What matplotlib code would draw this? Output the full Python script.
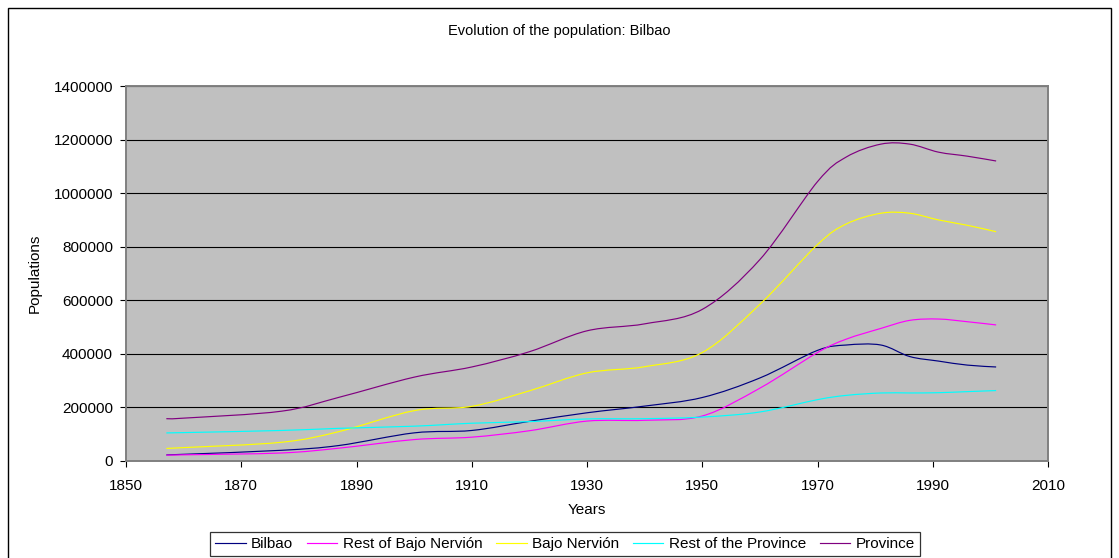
import matplotlib.pyplot as plt
import numpy as np
from matplotlib.path import Path
from matplotlib.patches import PathPatch, Rectangle
from matplotlib.lines import Line2D

plt.rcParams['font.family'] = ['Liberation Sans', 'DejaVu Sans']

# Census years and population counts
years = [1857, 1860, 1877, 1887, 1900, 1910, 1920, 1930, 1940, 1950,
         1960, 1970, 1975, 1981, 1986, 1991, 1996, 2001]

bilbao = [23000, 25000, 40000, 58000, 105000, 114000, 148000, 180000, 205000, 237000,
          310000, 413000, 433000, 433000, 390000, 373000, 358000, 351000]
rest_bajo_nervion = [22000, 23000, 30000, 48000, 80000, 89000, 113000, 149000, 152000, 168000,
                     272000, 405000, 455000, 495000, 525000, 530000, 520000, 508000]
bajo_nervion = [47000, 50000, 70000, 110000, 188000, 204000, 262000, 329000, 352000, 405000,
                585000, 808000, 885000, 925000, 925000, 900000, 880000, 856000]
rest_province = [105000, 106000, 114000, 122000, 130000, 141000, 147000, 157000, 158000, 164000,
                 183000, 229000, 245000, 254000, 254000, 255000, 259000, 263000]
province = [158000, 160000, 186000, 238000, 313000, 351000, 408000, 486000, 512000, 566000,
            752000, 1043000, 1135000, 1183000, 1183000, 1153000, 1138000, 1120000]

series = [
    ("Bilbao", bilbao, "#000080"),
    ("Rest of Bajo Nervión", rest_bajo_nervion, "#FF00FF"),
    ("Bajo Nervión", bajo_nervion, "#FFFF00"),
    ("Rest of the Province", rest_province, "#00FFFF"),
    ("Province", province, "#800080"),
]


def smooth_path(xs, ys):
    """Bezier path through the points, spreadsheet-style smoothed line."""
    pts = np.column_stack([xs, ys]).astype(float)
    n = len(pts)
    verts = [pts[0]]
    codes = [Path.MOVETO]
    for i in range(n - 1):
        p0 = pts[i - 1] if i > 0 else pts[i]
        p1, p2 = pts[i], pts[i + 1]
        p3 = pts[i + 2] if i + 2 < n else pts[i + 1]
        c1 = p1 + (p2 - p0) / 6.0
        c2 = p2 - (p3 - p1) / 6.0
        verts += [c1, c2, p2]
        codes += [Path.CURVE4] * 3
    return Path(verts, codes)


fig = plt.figure(figsize=(11.19, 5.58), dpi=100)
ax = fig.add_axes([126 / 1119, 1 - 461 / 558, 922 / 1119, 375 / 558])
ax.set_facecolor("#C0C0C0")

handles = []
for name, vals, color in series:
    ax.add_patch(PathPatch(smooth_path(years, vals), fill=False, edgecolor=color,
                           linewidth=0.85, zorder=3))
    handles.append(Line2D([], [], color=color, linewidth=0.85, label=name))

ax.set_xlim(1850, 2010)
ax.set_ylim(0, 1400000)
ax.set_xticks(range(1850, 2011, 20))
ax.set_yticks(range(0, 1400001, 200000))
ax.yaxis.set_major_formatter(plt.FuncFormatter(lambda v, p: f"{int(v)}"))
ax.grid(axis="y", color="black", linewidth=0.8)
ax.set_axisbelow(True)
ax.tick_params(labelsize=11, length=4.3, width=0.8, color="black", direction="out")
ax.tick_params(axis="y", pad=5)
ax.tick_params(axis="x", pad=9)
for side in ["left", "bottom", "top", "right"]:
    ax.spines[side].set_color("#808080")
    ax.spines[side].set_linewidth(1.4)

ax.set_xlabel("Years", fontsize=11, va="center")
ax.set_ylabel("Populations", fontsize=11, va="center")
ax.xaxis.set_label_coords(0.5, (461 - 510) / 375)
ax.yaxis.set_label_coords((35 - 126) / 922, 0.5)
fig.text(0.5, 1 - 31 / 558, "Evolution of the population: Bilbao", ha="center", va="center",
         fontsize=10.5)

leg = fig.legend(handles=handles, loc="center", bbox_to_anchor=(565 / 1119, 1 - 544 / 558),
                 ncol=5, fontsize=11, frameon=True, fancybox=False, handlelength=2.0,
                 handletextpad=0.35, columnspacing=0.9, borderpad=0.3, borderaxespad=0)
leg.get_frame().set_edgecolor("black")
leg.get_frame().set_linewidth(0.9)

# outer chart border
fig.add_artist(Rectangle((8 / 1119, -0.02), 1103 / 1119, 1.02 - 8 / 558, transform=fig.transFigure,
                         fill=False, edgecolor="black", linewidth=1.0))

fig.savefig("out.png", dpi=100, facecolor="white")
